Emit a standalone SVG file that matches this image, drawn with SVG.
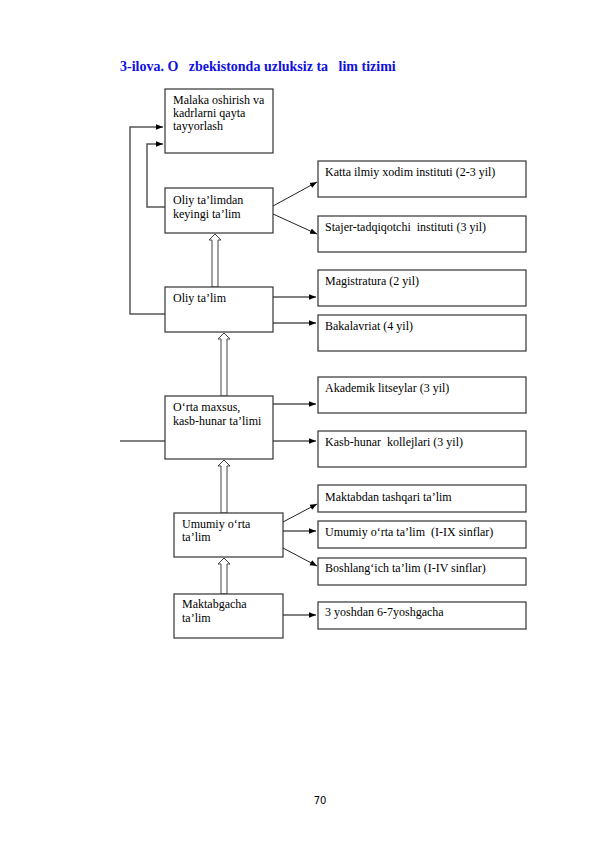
<svg xmlns="http://www.w3.org/2000/svg" width="595" height="842" viewBox="0 0 595 842">
<style>
.box{fill:#fff;stroke:#333;stroke-width:1.2}
.t{font-family:'Liberation Serif',serif;font-size:12px;fill:#000}
.c{fill:none;stroke:#555;stroke-width:1.5}
.d{fill:none;stroke:#222;stroke-width:1}
.h{fill:#fff;stroke:#444;stroke-width:1}
</style>
<defs>
<marker id="a" viewBox="0 0 10 10" refX="10" refY="5" markerWidth="7" markerHeight="7" markerUnits="userSpaceOnUse" orient="auto">
<path d="M0,1 L10,5 L0,9 z" fill="#000"/>
</marker>
</defs>
<rect width="595" height="842" fill="#fff"/>
<text x="120" y="71" font-family="'Liberation Serif',serif" font-size="14" font-weight="bold" fill="#1010e0" xml:space="preserve">3-ilova. O   zbekistonda uzluksiz ta   lim tizimi</text>

<g id="connectors">
<polyline class="c" points="165,314 130,314 130,127 163,127" marker-end="url(#a)"/>
<polyline class="c" points="165,207 147,207 147,144 163,144" marker-end="url(#a)"/>
<line class="d" x1="273" y1="206" x2="317" y2="182" marker-end="url(#a)"/>
<line class="d" x1="273" y1="214" x2="317" y2="234" marker-end="url(#a)"/>
<line class="c" x1="273" y1="297" x2="316" y2="297" marker-end="url(#a)"/>
<line class="c" x1="273" y1="323" x2="316" y2="323" marker-end="url(#a)"/>
<line class="c" x1="120" y1="441" x2="165" y2="441"/>
<line class="c" x1="273" y1="404" x2="316" y2="404" marker-end="url(#a)"/>
<line class="c" x1="273" y1="441" x2="316" y2="441" marker-end="url(#a)"/>
<line class="d" x1="283" y1="522" x2="317" y2="504" marker-end="url(#a)"/>
<line class="c" x1="283" y1="531" x2="316" y2="531" marker-end="url(#a)"/>
<line class="d" x1="283" y1="548" x2="317" y2="566" marker-end="url(#a)"/>
<line class="c" x1="283" y1="615" x2="316" y2="615" marker-end="url(#a)"/>
<polygon class="h" points="212,287 212,240 209,240 215,234 221,240 218,240 218,287"/>
<polygon class="h" points="221,396 221,339 218,339 224,333 230,339 227,339 227,396"/>
<polygon class="h" points="221,513 221,466 218,466 224,460 230,466 227,466 227,513"/>
<polygon class="h" points="221,594 221,564 218,564 224,558 230,564 227,564 227,594"/>
</g>

<g id="malaka"><rect class="box" x="165" y="89" width="108" height="64"/>
<text class="t" x="173" y="104">Malaka oshirish va</text><text class="t" x="173" y="117">kadrlarni qayta</text><text class="t" x="173" y="130">tayyorlash</text></g>
<g id="oliydan"><rect class="box" x="165" y="188" width="108" height="45"/>
<text class="t" x="173" y="204">Oliy ta’limdan</text><text class="t" x="173" y="218">keyingi ta’lim</text></g>
<g id="oliy"><rect class="box" x="165" y="287" width="108" height="45"/>
<text class="t" x="173" y="302">Oliy ta’lim</text></g>
<g id="ortamaxsus"><rect class="box" x="165" y="396" width="108" height="63"/>
<text class="t" x="173" y="411">O‘rta maxsus,</text><text class="t" x="173" y="425">kasb-hunar ta’limi</text></g>
<g id="umumiy"><rect class="box" x="174" y="513" width="109" height="44"/>
<text class="t" x="182" y="528">Umumiy o‘rta</text><text class="t" x="182" y="541">ta’lim</text></g>
<g id="maktabgacha"><rect class="box" x="174" y="594" width="109" height="44"/>
<text class="t" x="182" y="608">Maktabgacha</text><text class="t" x="182" y="622">ta’lim</text></g>

<g id="katta"><rect class="box" x="318" y="161" width="208" height="36"/>
<text class="t" x="325" y="176">Katta ilmiy xodim instituti (2-3 yil)</text></g>
<g id="staje"><rect class="box" x="318" y="216" width="208" height="36"/>
<text class="t" x="325" y="231" xml:space="preserve">Stajer-tadqiqotchi  instituti (3 yil)</text></g>
<g id="magistratura"><rect class="box" x="318" y="270" width="208" height="36"/>
<text class="t" x="325" y="285">Magistratura (2 yil)</text></g>
<g id="bakalavriat"><rect class="box" x="318" y="315" width="208" height="36"/>
<text class="t" x="325" y="330">Bakalavriat (4 yil)</text></g>
<g id="akademik"><rect class="box" x="318" y="377" width="208" height="36"/>
<text class="t" x="325" y="392">Akademik litseylar (3 yil)</text></g>
<g id="kasb"><rect class="box" x="318" y="431" width="208" height="36"/>
<text class="t" x="325" y="446" xml:space="preserve">Kasb-hunar  kollejlari (3 yil)</text></g>
<g id="maktabdan"><rect class="box" x="318" y="485" width="208" height="27"/>
<text class="t" x="325" y="501">Maktabdan tashqari ta’lim</text></g>
<g id="umumiy9"><rect class="box" x="318" y="521" width="208" height="27"/>
<text class="t" x="325" y="536" xml:space="preserve">Umumiy o‘rta ta’lim  (I-IX sinflar)</text></g>
<g id="boshlang"><rect class="box" x="318" y="558" width="208" height="27"/>
<text class="t" x="325" y="572">Boshlang‘ich ta’lim (I-IV sinflar)</text></g>
<g id="yosh"><rect class="box" x="318" y="602" width="208" height="27"/>
<text class="t" x="325" y="616">3 yoshdan 6-7yoshgacha</text></g>

<text x="320" y="804" font-family="'DejaVu Sans',sans-serif" font-size="10" text-anchor="middle" fill="#000">70</text>
</svg>
